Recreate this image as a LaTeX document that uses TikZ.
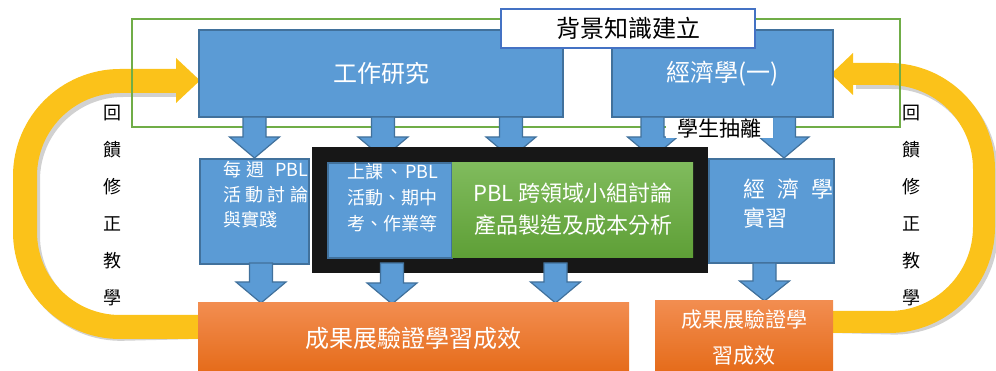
\documentclass[tikz,border=0pt]{standalone}
\usepackage{fontspec}
\setmainfont{Noto Sans CJK TC}
\definecolor{bluefill}{HTML}{5B9BD5}
\definecolor{blueedge}{HTML}{41719C}
\definecolor{greenframe}{HTML}{70AD47}
\definecolor{titleedge}{HTML}{4472C4}
\definecolor{gtop}{HTML}{80BB5D}
\definecolor{gbot}{HTML}{5E9F36}
\definecolor{otop}{HTML}{F28D50}
\definecolor{obot}{HTML}{E56B19}
\definecolor{yel}{HTML}{FBC21A}
\definecolor{blk}{HTML}{171717}
\newcommand\blockarr[4]{%
  \filldraw[arrowbody] ({#1-11.5},#2) -- ({#1+11.5},#2) -- ({#1+11.5},#3) -- ({#1+25},#3)
    -- (#1,#4) -- ({#1-25},#3) -- ({#1-11.5},#3) -- cycle;}
\newcommand\fs[2]{\fontsize{#1}{#2}\selectfont}
\begin{document}
\begin{tikzpicture}[x=1pt,y=-1pt,
  box/.style={rectangle,inner sep=0pt,outer sep=0pt,anchor=north west},
  bluebox/.style={box,fill=bluefill,draw=blueedge,line width=1.5pt,text=white},
  orangebox/.style={box,top color=otop,bottom color=obot,text=white},
  arrowbody/.style={fill=bluefill,draw=blueedge,line width=1.2pt,line join=miter},
  yelarrow/.style={line width=#1,draw=yel,rounded corners=95pt},
  yelshadow/.style={line width=#1,draw=black,opacity=0.18,rounded corners=95pt},
  sidetext/.style={align=center,font=\fs{18}{37}},
  wtext/.style={text=white,inner sep=0pt}]
\useasboundingbox (0,0) rectangle (996,371);
% yellow feedback arrows
\coordinate (yl0) at (199,327);
\coordinate (yr0) at (833,322);
\draw[yelshadow=24pt,shift={(3,4)}] (yl0) -- (25,327) -- (25,81) -- (178,81);
\draw[yelshadow=22pt,shift={(3,4)}] (yr0) -- (984,322) -- (984,74) -- (853,74);
\draw[yelarrow=24pt] (yl0) -- (25,327) -- (25,81) -- (178,81);
\fill[yel] (176,58) -- (200,80.5) -- (176,103) -- cycle;
\draw[yelarrow=22pt] (yr0) -- (984,322) -- (984,74) -- (853,74);
\fill[yel] (853,53) -- (831,74) -- (853,95) -- cycle;
% background frame
\node[box,draw=greenframe,line width=2pt,minimum width=768pt,minimum height=108pt] (frame) at (132,19) {};
% top boxes
\node[bluebox,minimum width=364pt,minimum height=87pt,font=\fs{24}{28}] (work) at (199,30) {工作研究};
\node[bluebox,minimum width=221pt,minimum height=87pt,font=\fs{24}{28}] (econ) at (612,30) {經濟學(一)};
% arrows from the top boxes
\blockarr{254.5}{117}{137}{158}
\blockarr{383}{117}{137}{158}
\blockarr{511}{117}{137}{158}
\blockarr{652.5}{117}{137}{158}
\blockarr{784}{117}{137}{158}
% title
\node[box,fill=white,draw=titleedge,line width=2pt,minimum width=254pt,minimum height=39pt,font=\fs{24}{28}] (title) at (501,9) {背景知識建立};
% student pull-out label
\node[box,fill=white,minimum width=107pt,minimum height=20pt,font=\fs{21}{22}] (pull) at (666,118) {學生抽離};
% black group
\node[box,fill=blk,minimum width=396pt,minimum height=126pt] (group) at (312,147) {};
\node[bluebox,minimum width=124pt,minimum height=95pt] (lesson) at (328,163) {};
\node[box,top color=gtop,bottom color=gbot,minimum width=241pt,minimum height=95pt] (pbl) at (452,163) {};
\node[wtext,align=left,anchor=north west,font=\fs{18}{26}] (lessont) at (347,163)
  {\hbox to 91pt{上課\hfil 、\hfil PBL}\\活動、期中\\考、作業等};
\node[wtext,align=center,font=\fs{22}{32}] (pblt) at (573,209)
  {PBL 跨領域小組討論\\產品製造及成本分析};
% side boxes
\node[bluebox,minimum width=109pt,minimum height=105pt] (weekly) at (200,159) {};
\node[wtext,align=left,anchor=north west,font=\fs{18}{25}] (weeklyt) at (223,161)
  {\hbox to 85pt{每\hfil 週\hfil\hfil PBL}\\\hbox to 85pt{活\hfil 動\hfil 討\hfil 論}\\與實踐};
\node[bluebox,minimum width=125pt,minimum height=104pt] (practice) at (709,159) {};
\node[wtext,align=left,anchor=north west,font=\fs{22}{29}] (practicet) at (743,179)
  {\hbox to 90pt{經\hfil 濟\hfil 學}\\實習};
% arrows to results
\blockarr{261}{263}{282}{303}
\blockarr{392}{263}{283}{304}
\blockarr{555.5}{263}{282}{303}
\blockarr{764.5}{263}{281}{301}
% result boxes
\node[orangebox,minimum width=431pt,minimum height=70pt,font=\fs{24}{28}] (result) at (198,303) {成果展驗證學習成效};
\node[orangebox,minimum width=178pt,minimum height=72pt,align=center,font=\fs{21}{36}] (result2) at (655,301) {成果展驗證學\\習成效};
% side texts
\node[sidetext] (fbl) at (112,206) {回\\饋\\修\\正\\教\\學};
\node[sidetext] (fbr) at (911,206) {回\\饋\\修\\正\\教\\學};
\end{tikzpicture}
\end{document}
